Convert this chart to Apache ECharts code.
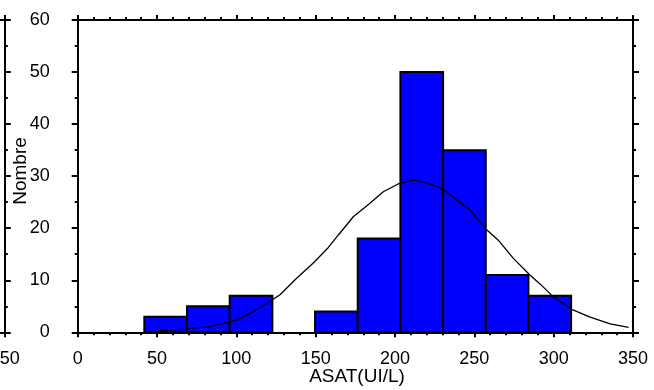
<!DOCTYPE html>
<html><head><meta charset="utf-8">
<script src="https://cdn.jsdelivr.net/npm/echarts@6/dist/echarts.min.js"></script>
<style>html,body{margin:0;padding:0;background:#fff}#c{width:654px;height:390px}</style>
</head><body><div id="c"></div>
<script>
// Histogram bins (ASAT, UI/L) and counts
const binEdges = [42, 68.9, 95.8, 122.7, 149.6, 176.5, 203.4, 230.3, 257.2, 284.1, 311];
const counts = [3, 5, 7, 0, 4, 18, 50, 35, 11, 7];
// Fitted curve
const curveX = [43.5, 51.9, 68.7, 75, 82.3, 86.5, 94.9, 100.2, 108.6, 117, 127.5, 138, 148.5, 158, 164.3, 173.7, 184.2, 192.6, 202, 211.5, 222, 230.4, 238.9, 247.3, 256.7, 265.1, 274.6, 285, 291.4, 299.8, 311.4, 323, 335.6, 347.2];
const curveY = [0, 0.3, 0.6, 0.9, 1.0, 1.4, 1.9, 2.4, 3.65, 5.1, 7.2, 10.4, 13.3, 16.3, 18.7, 22.2, 24.8, 27, 28.5, 29.3, 28.5, 27.5, 25.4, 23.5, 20, 17.7, 14.2, 11, 9.3, 6.8, 4.4, 2.9, 1.6, 0.96];
const xAxisTitle = 'ASAT(UI/L)';
const yAxisTitle = 'Nombre';

const histData = counts.map((c, i) => [binEdges[i], binEdges[i + 1], c]).filter(d => d[2] > 0);
const curveData = curveX.map((x, i) => [x, curveY[i]]);

const FONT = 'Liberation Sans, Arial, sans-serif';
function xAx(grid, pos, labels) {
  return {
    type: 'value', gridIndex: grid, position: pos, min: 0, max: 350, interval: 50,
    axisLine: {show: true, onZero: false, lineStyle: {color: '#000', width: 2}},
    axisTick: {show: true, inside: false, length: 5, lineStyle: {color: '#000', width: 2}},
    minorTick: {show: true, splitNumber: 5, length: 3, lineStyle: {color: '#000', width: 2}},
    splitLine: {show: false}, minorSplitLine: {show: false},
    axisLabel: {show: labels, color: '#000', fontSize: 18, fontFamily: FONT, margin: 18, hideOverlap: false}
  };
}
function yAx(grid, pos, labels) {
  return {
    type: 'value', gridIndex: grid, position: pos, min: 0, max: 60, interval: 10,
    axisLine: {show: true, onZero: false, lineStyle: {color: '#000', width: 2}},
    axisTick: {show: true, inside: false, length: 6, lineStyle: {color: '#000', width: 2}},
    minorTick: {show: true, splitNumber: 2, length: 3, lineStyle: {color: '#000', width: 2}},
    splitLine: {show: false}, minorSplitLine: {show: false},
    axisLabel: {show: labels, color: '#000', fontSize: 18, fontFamily: FONT, margin: 28}
  };
}

const chart = echarts.init(document.getElementById('c'), null, {renderer: 'canvas'});
chart.setOption({
  animation: false,
  backgroundColor: '#fff',
  grid: [
    {left: 77.7, top: 20, width: 555.3, height: 312.3, outerBoundsMode: 'none', containLabel: false},
    {left: -550.5, top: 20, width: 555.3, height: 312.3, outerBoundsMode: 'none', containLabel: false}
  ],
  xAxis: [xAx(0, 'bottom', true), xAx(0, 'top', false), xAx(1, 'bottom', true), xAx(1, 'top', false)],
  yAxis: [yAx(0, 'left', true), yAx(0, 'right', false), yAx(1, 'right', false)],
  graphic: [
    {type: 'text', x: 357, y: 377, style: {text: xAxisTitle, fill: '#000', font: '19px ' + FONT, textAlign: 'center', textVerticalAlign: 'middle'}},
    {type: 'text', x: 21, y: 171, rotation: Math.PI / 2, style: {text: yAxisTitle, fill: '#000', font: '19px ' + FONT, textAlign: 'center', textVerticalAlign: 'middle'}}
  ],
  series: [
    {
      type: 'custom', xAxisIndex: 0, yAxisIndex: 0, data: histData,
      encode: {x: [0, 1], y: 2},
      renderItem: function (params, api) {
        const p0 = api.coord([api.value(0), 0]);
        const p1 = api.coord([api.value(1), api.value(2)]);
        return {type: 'rect', shape: {x: p0[0], y: p1[1], width: p1[0] - p0[0], height: p0[1] - p1[1]},
          style: {fill: '#0000ff', stroke: '#000', lineWidth: 2}};
      }, z: 2
    },
    {
      type: 'line', xAxisIndex: 0, yAxisIndex: 0, data: curveData, showSymbol: false, symbol: 'none',
      lineStyle: {color: '#000', width: 1.3}, z: 5
    }
  ]
});
</script></body></html>
